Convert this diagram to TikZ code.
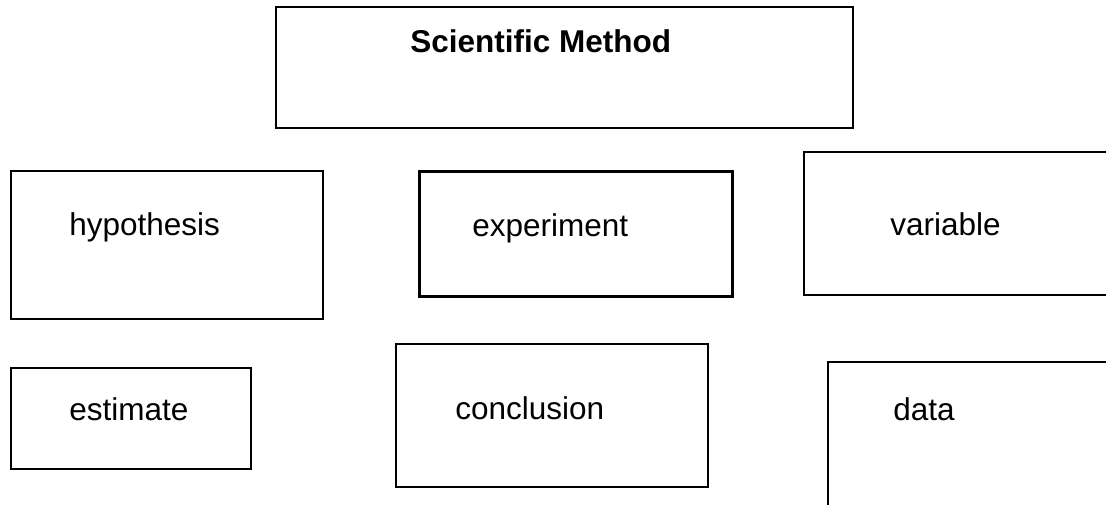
\documentclass[tikz,border=0pt]{standalone}
\usepackage{fontspec}
\setmainfont{Liberation Sans}
\usepackage{tikz}

\begin{document}
\begin{tikzpicture}[x=0.5pt,y=-0.5pt]
% Box style
\tikzset{
    termbox/.style={draw, line width=1pt, rectangle, inner sep=0pt},
    sized/.style 2 args={minimum width=#1*0.5pt, minimum height=#2*0.5pt},
    term/.style={anchor=base west, inner sep=0pt, font=\fontsize{15.75}{19}\selectfont}
}
% Page
\clip (0,0) rectangle (1106,504);
% Boxes
\node[termbox, sized={577}{121}] (method) at (564.5,67.5){};
\node[termbox, sized={312}{148}] (hypo) at (167,245){};
\node[termbox, sized={313}{125}, line width=1.5pt] (exper) at (575.5,233.5){};
\node[termbox, sized={326}{143}] (vari) at (967,223.5){};
\node[termbox, sized={240}{101}] (estim) at (131,418.5){};
\node[termbox, sized={312}{143}] (concl) at (552,415.5){};
\node[termbox, sized={302}{168}] (data) at (979,446){};
% Labels
\node[term, font=\fontsize{15.75}{19}\selectfont\bfseries] (methodText) at (410,52){Scientific Method};
\node[term] (hypoText) at (69,235){hypothesis};
\node[term] (experText) at (472,236){experiment};
\node[term] (variText) at (890,235){variable};
\node[term] (estimText) at (69,420){estimate};
\node[term] (conclText) at (455,419){conclusion};
\node[term] (dataText) at (893,420){data};
\end{tikzpicture}
\end{document}
